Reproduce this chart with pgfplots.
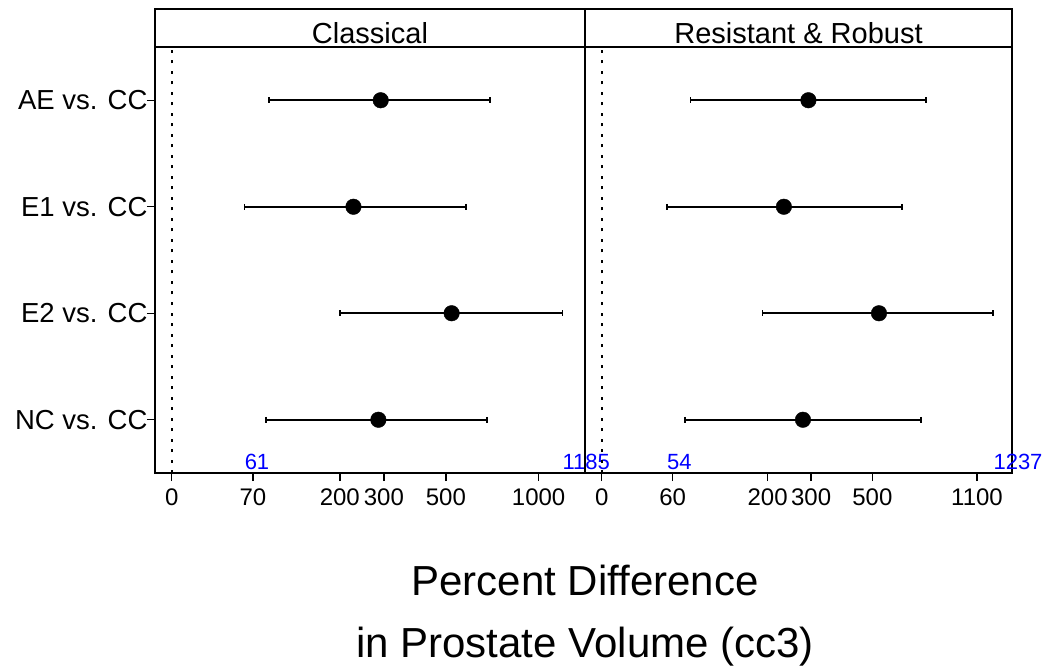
\documentclass[border=0pt]{standalone}
\usepackage{pgfplots}
\pgfplotsset{compat=1.18}
\usepackage{fontspec}
\setmainfont{Liberation Sans}
\tikzset{blue lab/.style={anchor=base west, inner sep=0pt, text={rgb,255:red,0;green,0;blue,255}, font=\fontsize{22}{24}\selectfont}}
\begin{document}
\begin{tikzpicture}
\pgfplotsset{
  panel/.style={
    scale only axis, height=426pt,
    ymin=0.5, ymax=4.5,
    x coord trafo/.code={\pgfmathparse{ln(1+(##1)/100)}},
    axis line style={line width=1.8pt},
    tick style={line width=1.4pt, black},
    tick align=outside,
    major tick length=8pt,
    xtick pos=bottom,
    clip=false,
    /pgf/number format/assume math mode=true,
    xticklabel style={font=\fontsize{24}{26}\selectfont, yshift=-4pt},
  },
  ci/.style={line width=2pt, mark=|, mark size=2.8pt, mark options={line width=1.8pt}},
  est/.style={only marks, mark=*, mark size=7.8pt, mark options={fill=black, draw=black}},
}
% ---------- Classical ----------
\begin{axis}[panel, name=left, width=430pt,
  xmin=-10.33, xmax=1389.5,
  xtick={0,70,200,300,500,1000},
  xticklabels={0,70,200,300,500,1000},
  ytick={1,2,3,4},
  yticklabels={NC vs. CC, E2 vs. CC, E1 vs. CC, AE vs. CC},
  ytick pos=left,
  yticklabel style={font=\fontsize{27.5}{30}\selectfont, xshift=4pt},
]
\addplot[line width=2pt, dash pattern=on 3pt off 7.5pt] coordinates {(0,0.5) (0,4.5)};
\addplot[ci] coordinates {(88.9,4) (700,4)};
\addplot[ci] coordinates {(61,3) (583,3)};
\addplot[ci] coordinates {(200,2) (1185,2)};
\addplot[ci] coordinates {(85,1) (687,1)};
\addplot[est] coordinates {(292,4) (228,3) (523,2) (286,1)};
\node[blue lab] at (axis cs:61,0.5375) {61};
\node[blue lab] at (axis cs:1185,0.5375) {1185};
\end{axis}
% ---------- Resistant & Robust ----------
\begin{axis}[panel, name=right, width=427pt,
  at={(left.south east)}, anchor=south west,
  xmin=-10.5, xmax=1413,
  xtick={0,60,200,300,500,1100},
  xticklabels={0,60,200,300,500,1100},
  ytick=\empty,
]
\addplot[line width=2pt, dash pattern=on 3pt off 7.5pt] coordinates {(0,0.5) (0,4.5)};
\addplot[ci] coordinates {(80,4) (757,4)};
\addplot[ci] coordinates {(54,3) (629,3)};
\addplot[ci] coordinates {(190,2) (1237,2)};
\addplot[ci] coordinates {(74,1) (729,1)};
\addplot[est] coordinates {(293,4) (234,3) (527,2) (279,1)};
\node[blue lab] at (axis cs:54,0.5375) {54};
\node[blue lab] at (axis cs:1237,0.5375) {1237};
\end{axis}
% strips
\draw[line width=1.8pt] (left.north west) rectangle ([yshift=37.7pt]left.north east);
\draw[line width=1.8pt] (right.north west) rectangle ([yshift=37.7pt]right.north east);
\node[anchor=base, inner sep=0pt, font=\fontsize{29}{31}\selectfont] at ([yshift=3.4pt]left.north) {Classical};
\node[anchor=base, inner sep=0pt, font=\fontsize{29}{31}\selectfont] at ([yshift=3.4pt]right.north) {Resistant \& Robust};
% x label
\node[anchor=base, inner sep=0pt, font=\fontsize{42}{46}\selectfont] at ([yshift=-122pt]left.south east) {Percent Difference};
\node[anchor=base, inner sep=0pt, font=\fontsize{42}{46}\selectfont] at ([yshift=-184pt]left.south east) {in Prostate Volume (cc3)};
% canvas
\path ([xshift=-155pt,yshift=-194pt]left.south west) rectangle ([xshift=895pt,yshift=473pt]left.south west);
\end{tikzpicture}
\end{document}
